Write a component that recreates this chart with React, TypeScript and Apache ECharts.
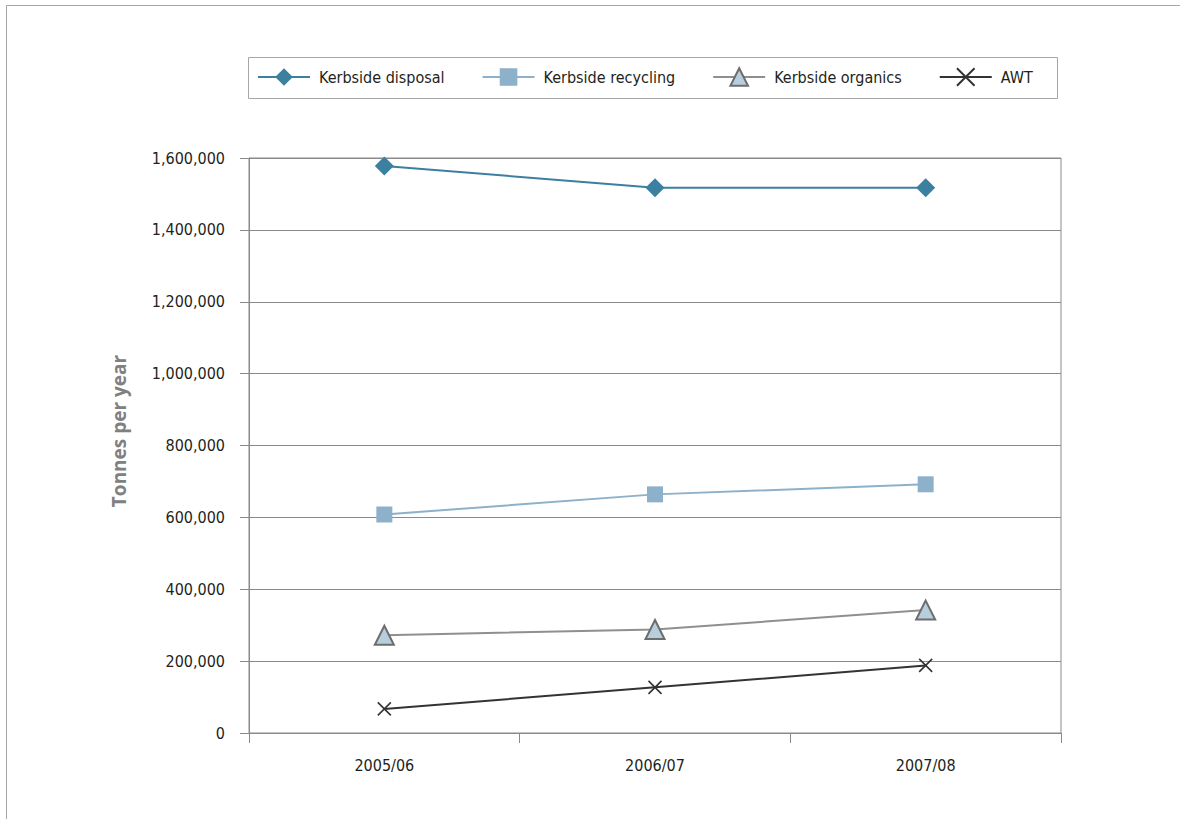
import React, { useEffect, useRef } from "react";
import * as echarts from "echarts";

const categories = ["2005/06", "2006/07", "2007/08"];
const kerbsideDisposal = [1578000, 1517000, 1517000];
const kerbsideRecycling = [608000, 664000, 692000];
const kerbsideOrganics = [272000, 288000, 342000];
const awt = [67000, 127000, 188000];
const seriesNames = ["Kerbside disposal", "Kerbside recycling", "Kerbside organics", "AWT"];
const yAxisTitle = "Tonnes per year";

const FONT = "'Liberation Sans Narrow', 'DejaVu Sans Condensed', sans-serif";
const TXT = "#231f20";
const GRID = "#8a8a8a";

export default function App() {
  const ref = useRef<HTMLDivElement>(null);
  useEffect(() => {
    document.body.style.margin = "0";
    const chart = echarts.init(ref.current!, null, { renderer: "svg" });
    const fmt = (v: number) => v.toLocaleString("en-US");
    chart.setOption({
      animation: false,
      backgroundColor: "#ffffff",
      textStyle: { fontFamily: FONT },
      graphic: [
        {
          type: "rect",
          shape: { x: 6.5, y: 5.5, width: 1300, height: 1000 },
          style: { fill: "none", stroke: "#a6a6a6", lineWidth: 1 },
          silent: true,
        },
        {
          type: "rect",
          shape: { x: 248.5, y: 57.5, width: 809, height: 41 },
          style: { fill: "none", stroke: "#a6a6a6", lineWidth: 1 },
          silent: true,
        },
        {
          type: "text",
          x: 119,
          y: 431,
          rotation: Math.PI / 2,
          style: {
            text: yAxisTitle,
            fontFamily: "'Open Sans', sans-serif",
            fontWeight: "bold",
            fontSize: 19,
            fill: "#808080",
            align: "center",
            verticalAlign: "middle",
          },
        },
      ],
      legend: {
        left: 257,
        top: 67,
        padding: 0,
        itemWidth: 52,
        itemHeight: 22,
        itemGap: 37,
        textStyle: { fontFamily: FONT, fontSize: 16, color: TXT, lineHeight: 20, padding: [0, 0, 0, 4] },
        data: seriesNames,
      },
      grid: { left: 249, right: 119, top: 158, bottom: 86, show: true, borderColor: GRID, borderWidth: 1 },
      xAxis: {
        type: "category",
        data: categories,
        boundaryGap: true,
        axisLine: { lineStyle: { color: GRID, width: 1 } },
        axisTick: { show: true, length: 10, lineStyle: { color: GRID } },
        axisLabel: { fontFamily: FONT, fontSize: 16, color: TXT, margin: 24 },
      },
      yAxis: {
        type: "value",
        min: 0,
        max: 1600000,
        interval: 200000,
        axisLine: { show: true, lineStyle: { color: GRID, width: 1 } },
        axisTick: { show: true, length: 9, lineStyle: { color: GRID } },
        splitLine: { show: true, lineStyle: { color: GRID, width: 1 } },
        axisLabel: { fontFamily: FONT, fontSize: 16, color: TXT, margin: 24, formatter: fmt },
      },
      series: [
        {
          name: seriesNames[0],
          type: "line",
          data: kerbsideDisposal,
          symbol: "diamond",
          symbolSize: 19,
          lineStyle: { color: "#3b7fa1", width: 2 },
          itemStyle: { color: "#3b7fa1" },
        },
        {
          name: seriesNames[1],
          type: "line",
          data: kerbsideRecycling,
          symbol: "rect",
          symbolSize: 16,
          lineStyle: { color: "#8db1ca", width: 2 },
          itemStyle: { color: "#8db1ca" },
        },
        {
          name: seriesNames[2],
          type: "line",
          data: kerbsideOrganics,
          symbol: "triangle",
          symbolSize: [19, 19],
          lineStyle: { color: "#8f8f8f", width: 2 },
          itemStyle: { color: "#b7cfdc", borderColor: "#6d6d6d", borderWidth: 2 },
        },
        {
          name: seriesNames[3],
          type: "line",
          data: awt,
          symbol: "path://M0,0 L10,10 M10,0 L0,10",
          symbolSize: 13,
          lineStyle: { color: "#333333", width: 2 },
          itemStyle: { color: "#333333", borderColor: "#333333", borderWidth: 1.6 },
        },
      ],
    });
    return () => chart.dispose();
  }, []);
  return <div ref={ref} style={{ width: 1180, height: 819 }} />;
}
